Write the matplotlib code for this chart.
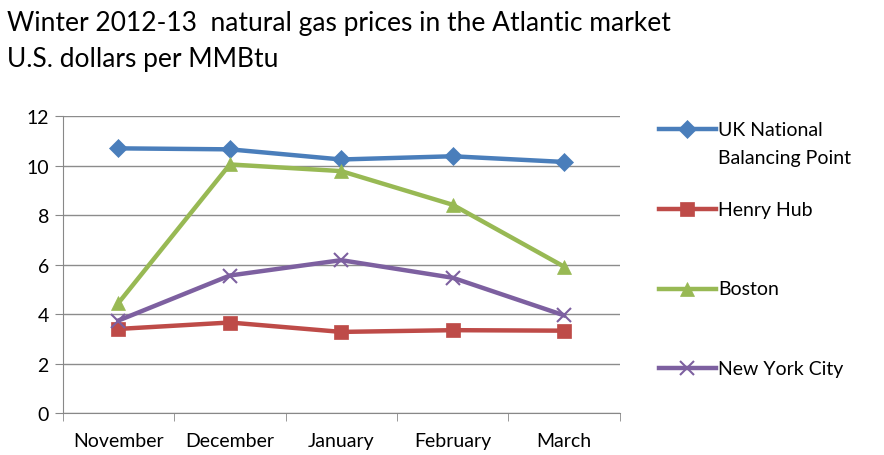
import matplotlib
matplotlib.use("Agg")
import matplotlib.pyplot as plt
from matplotlib.lines import Line2D

plt.rcParams['font.family'] = ['Lato', 'DejaVu Sans']

months = ['November', 'December', 'January', 'February', 'March']
uk_nbp = [10.7, 10.66, 10.25, 10.38, 10.15]
henry_hub = [3.4, 3.66, 3.28, 3.35, 3.33]
boston = [4.45, 10.05, 9.78, 8.42, 5.92]
nyc = [3.74, 5.56, 6.18, 5.47, 3.95]

series = [
    ('UK National\nBalancing Point', uk_nbp, '#4A7EBB', 'D', 9),
    ('Henry Hub', henry_hub, '#BE4B48', 's', 10),
    ('Boston', boston, '#98B954', '^', 10),
    ('New York City', nyc, '#7D60A0', 'x', 10),
]

fig = plt.figure(figsize=(8.84, 4.56), dpi=100)
ax = fig.add_axes([0.071, 0.092, 0.63, 0.651])

x = [i + 0.5 for i in range(len(months))]
for name, vals, color, marker, ms in series:
    ax.plot(x, vals, color=color, linewidth=3.2, marker=marker, markersize=ms,
            markeredgewidth=1.5 if marker == 'x' else 0.5,
            markeredgecolor=color, label=name, zorder=3)

ax.set_xlim(0, len(months))
ax.set_ylim(0, 12)
ax.set_yticks(range(0, 13, 2))
ax.set_xticks([i + 0.5 for i in range(len(months))])
ax.set_xticklabels(months)
ax.set_xticks(range(len(months) + 1), minor=True)
ax.tick_params(axis='x', which='major', length=0, labelsize=14, pad=14)
ax.tick_params(axis='x', which='minor', length=6, color='#888888')
ax.tick_params(axis='y', length=6, color='#888888', labelsize=14, pad=4)
ax.yaxis.grid(True, color='#8c8c8c', linewidth=1)
ax.set_axisbelow(True)
for s in ['top', 'right']:
    ax.spines[s].set_visible(False)
for s in ['left', 'bottom']:
    ax.spines[s].set_color('#888888')

# legend drawn by hand to match the spacing of the original
legend_y = [0.715, 0.54, 0.365, 0.19]
for (name, vals, color, marker, ms), ly in zip(series, legend_y):
    fig.add_artist(Line2D([0.745, 0.81], [ly, ly], color=color, linewidth=3.2,
                          transform=fig.transFigure))
    fig.add_artist(Line2D([0.7775], [ly], color=color, marker=marker, markersize=ms,
                          markeredgewidth=1.5 if marker == 'x' else 0.5,
                          markeredgecolor=color, transform=fig.transFigure))
    fig.text(0.812, ly + 0.018, name, fontsize=14, va='top', ha='left',
             linespacing=1.8)

fig.text(0.008, 0.948, 'Winter 2012-13  natural gas prices in the Atlantic market',
         fontsize=19, va='center', ha='left')
fig.text(0.008, 0.87, 'U.S. dollars per MMBtu', fontsize=19, va='center', ha='left')

plt.savefig('out.png', dpi=100)
